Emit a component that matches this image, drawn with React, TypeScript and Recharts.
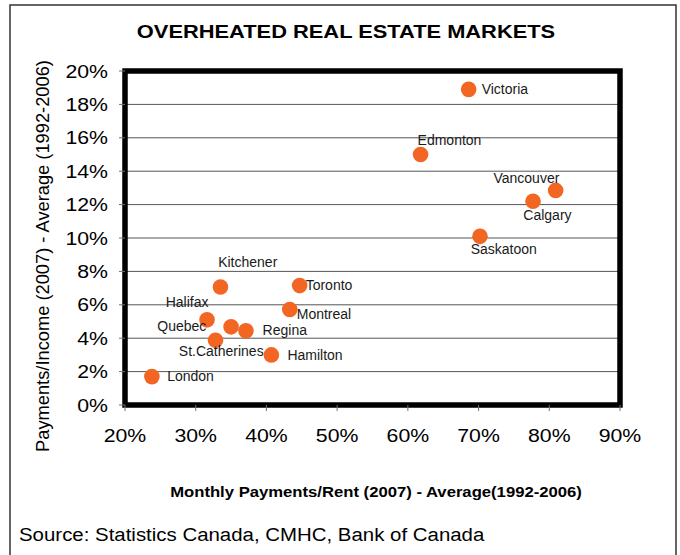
import React from "react";
import {
  ScatterChart,
  Scatter,
  XAxis,
  YAxis,
  CartesianGrid,
  ReferenceArea,
} from "recharts";

// ---- Data ----
const CITIES = [
  "Victoria",
  "Edmonton",
  "Vancouver",
  "Calgary",
  "Saskatoon",
  "Kitchener",
  "Toronto",
  "Montreal",
  "Halifax",
  "Quebec",
  "Regina",
  "St.Catherines",
  "Hamilton",
  "London",
];
// Monthly Payments/Rent (2007) - Average(1992-2006), in %
const PAYMENTS_RENT = [68.6, 61.8, 80.9, 77.7, 70.2, 33.5, 44.7, 43.3, 31.6, 35.0, 37.1, 32.8, 40.7, 23.8];
// Payments/Income (2007) - Average (1992-2006), in %
const PAYMENTS_INCOME = [18.9, 15.0, 12.85, 12.2, 10.1, 7.07, 7.15, 5.72, 5.1, 4.68, 4.44, 3.88, 3.0, 1.7];

const X_TICKS = [20, 30, 40, 50, 60, 70, 80, 90];
const Y_TICKS = [0, 2, 4, 6, 8, 10, 12, 14, 16, 18, 20];

const TITLE = "OVERHEATED REAL ESTATE MARKETS";
const X_TITLE = "Monthly Payments/Rent (2007) - Average(1992-2006)";
const Y_TITLE = "Payments/Income (2007) - Average (1992-2006)";
const SOURCE = "Source: Statistics Canada, CMHC, Bank of Canada";

// ---- Layout (label placement relative to the dot) ----
const LABEL_LAYOUT: Record<string, [number, number, "start" | "end"]> = {
  Victoria: [13, 4.5, "start"],
  Edmonton: [-3, -10, "start"],
  Vancouver: [3.7, -7.3, "end"],
  Calgary: [-9.7, 18.3, "start"],
  Saskatoon: [-9.3, 17.3, "start"],
  Kitchener: [-2.3, -19.7, "start"],
  Toronto: [6, 4, "start"],
  Montreal: [7, 9.5, "start"],
  Halifax: [-41.3, -12.7, "start"],
  Quebec: [-24.7, 4.5, "end"],
  Regina: [16.7, 4.5, "start"],
  "St.Catherines": [-36.7, 15.7, "start"],
  Hamilton: [16, 5, "start"],
  London: [15.3, 4.7, "start"],
};

const data = CITIES.map((name, i) => ({
  name,
  x: PAYMENTS_RENT[i],
  y: PAYMENTS_INCOME[i],
}));

const FONT = "'Liberation Sans', Arial, sans-serif";
const DOT = "#F36523";
const SX = 1.15;

const DotShape = (props: any) => {
  const { cx, cy, payload } = props;
  if (cx == null || cy == null) return null;
  const lay = LABEL_LAYOUT[payload.name] || [12, 5, "start"];
  return (
    <g>
      <circle cx={cx} cy={cy} r={7.8} fill={DOT} />
      <text
        x={cx + lay[0]}
        y={cy + lay[1]}
        textAnchor={lay[2]}
        fontFamily={FONT}
        fontSize={14}
        fill="#1a1a1a"
      >
        {payload.name}
      </text>
    </g>
  );
};

const YTick = (props: any) => {
  const { x, y, payload } = props;
  return (
    <text
      transform={`translate(${x},${y}) scale(${SX},1)`}
      textAnchor="end"
      dy="0.355em"
      fontFamily={FONT}
      fontSize={18.5}
      fill="#000"
    >
      {`${payload.value}%`}
    </text>
  );
};

const XTick = (props: any) => {
  const { x, y, payload } = props;
  return (
    <text
      transform={`translate(${x},${y}) scale(${SX},1)`}
      textAnchor="middle"
      dy="0.71em"
      fontFamily={FONT}
      fontSize={18.5}
      fill="#000"
    >
      {`${payload.value}%`}
    </text>
  );
};

export default function App() {
  return (
    <div
      style={{
        position: "absolute",
        left: 0,
        top: 0,
        width: 680,
        height: 555,
        background: "#fff",
        overflow: "hidden",
      }}
    >
      <ScatterChart
        width={680}
        height={555}
        margin={{ top: 71, right: 60, bottom: 120, left: 65 }}
      >
        <CartesianGrid
          horizontal={true}
          vertical={false}
          stroke="#555"
          strokeWidth={1}
        />
        <XAxis
          type="number"
          dataKey="x"
          domain={[20, 90]}
          ticks={X_TICKS}
          allowDataOverflow
          height={30}
          axisLine={false}
          tickLine={{ stroke: "#707070" }}
          tickSize={6}
          tickMargin={18}
          tick={<XTick />}
          interval={0}
        />
        <YAxis
          type="number"
          dataKey="y"
          domain={[0, 20]}
          ticks={Y_TICKS}
          allowDataOverflow
          width={60}
          axisLine={false}
          tickLine={{ stroke: "#707070" }}
          tickSize={6}
          tickMargin={11}
          tick={<YTick />}
          interval={0}
        />
        <ReferenceArea
          x1={20}
          x2={90}
          y1={0}
          y2={20}
          fill="none"
          fillOpacity={0}
          stroke="#000"
          strokeWidth={5.5}
        />
        <Scatter data={data} shape={DotShape} isAnimationActive={false} />
      </ScatterChart>
      <svg
        width={680}
        height={555}
        style={{ position: "absolute", left: 0, top: 0, pointerEvents: "none" }}
      >
        <rect
          x={10}
          y={5}
          width={666}
          height={570}
          fill="none"
          stroke="#333"
          strokeWidth={1.5}
        />
        <text
          transform={`translate(346,37.7) scale(${SX},1)`}
          textAnchor="middle"
          fontFamily={FONT}
          fontWeight="bold"
          fontSize={19}
          fill="#000"
        >
          {TITLE}
        </text>
        <text
          transform={`translate(376,497) scale(${SX},1)`}
          textAnchor="middle"
          fontFamily={FONT}
          fontWeight="bold"
          fontSize={14.5}
          fill="#000"
        >
          {X_TITLE}
        </text>
        <text
          transform={`translate(49,256) rotate(-90)`}
          textAnchor="middle"
          fontFamily={FONT}
          fontSize={18.3}
          fill="#000"
        >
          {Y_TITLE}
        </text>
        <text
          transform={`translate(19,541) scale(1.075,1)`}
          textAnchor="start"
          fontFamily={FONT}
          fontSize={19}
          fill="#000"
        >
          {SOURCE}
        </text>
      </svg>
    </div>
  );
}
